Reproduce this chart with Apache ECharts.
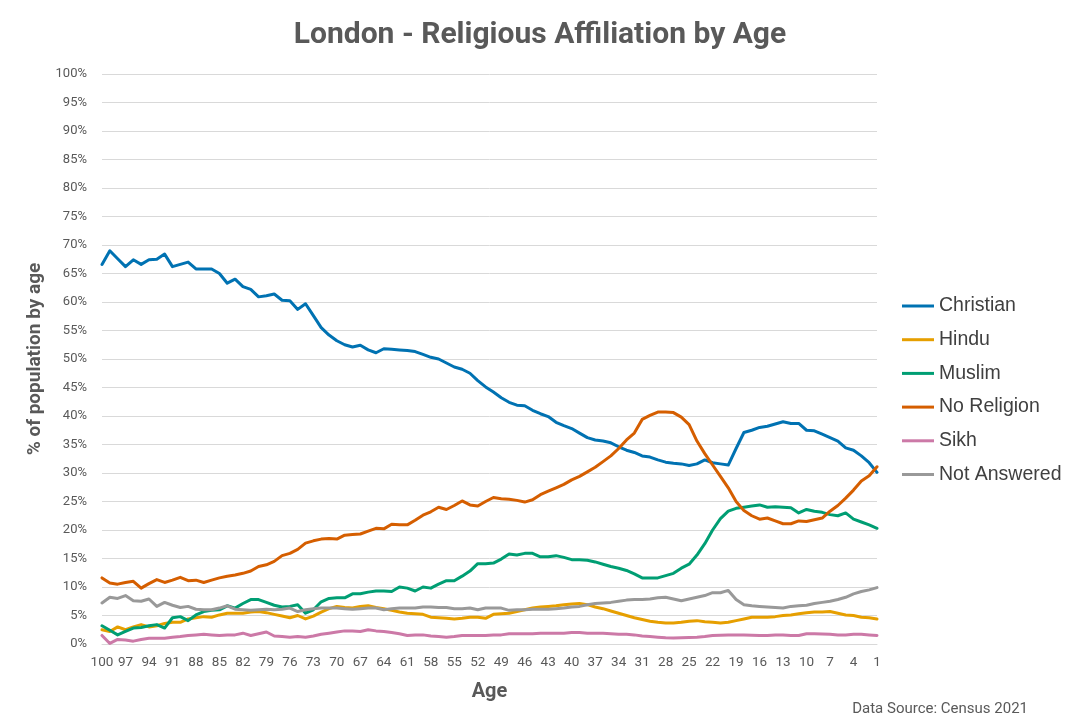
<!DOCTYPE html>
<html>
<head>
<meta charset="utf-8">
<title>London - Religious Affiliation by Age</title>
<script src="https://cdn.jsdelivr.net/npm/echarts@6/dist/echarts.min.js"></script>
<style>
  html, body { margin: 0; padding: 0; background: #fff; }
  #main { width: 1080px; height: 726px; }
</style>
</head>
<body>
<div id="main"></div>
<script>
// ages, oldest first (as on the original x axis)
var ages = ['100','99','98','97','96','95','94','93','92','91',
            '90','89','88','87','86','85','84','83','82','81',
            '80','79','78','77','76','75','74','73','72','71',
            '70','69','68','67','66','65','64','63','62','61',
            '60','59','58','57','56','55','54','53','52','51',
            '50','49','48','47','46','45','44','43','42','41',
            '40','39','38','37','36','35','34','33','32','31',
            '30','29','28','27','26','25','24','23','22','21',
            '20','19','18','17','16','15','14','13','12','11',
            '10','9','8','7','6','5','4','3','2','1'];

// % of population
var christian = [66.6, 69.0, 67.6, 66.2, 67.4, 66.6, 67.4, 67.5, 68.4, 66.2,
                 66.6, 67.0, 65.8, 65.8, 65.8, 65.0, 63.3, 64.0, 62.7, 62.2,
                 60.9, 61.1, 61.4, 60.3, 60.2, 58.7, 59.7, 57.6, 55.5, 54.2,
                 53.2, 52.5, 52.1, 52.4, 51.6, 51.1, 51.8, 51.7, 51.6, 51.5,
                 51.3, 50.8, 50.3, 50.0, 49.3, 48.6, 48.2, 47.5, 46.2, 45.1,
                 44.2, 43.2, 42.4, 41.9, 41.8, 41.0, 40.4, 39.9, 38.9, 38.3,
                 37.8, 37.0, 36.2, 35.8, 35.6, 35.3, 34.6, 34.0, 33.6, 33.0,
                 32.8, 32.3, 31.9, 31.7, 31.6, 31.3, 31.6, 32.3, 31.8, 31.6,
                 31.4, 34.3, 37.1, 37.5, 38.0, 38.2, 38.6, 39.0, 38.7, 38.7,
                 37.5, 37.4, 36.8, 36.2, 35.6, 34.4, 34.0, 33.0, 31.8, 30.1];
var hindu = [2.5, 2.2, 3.0, 2.5, 3.0, 3.4, 3.0, 3.2, 3.6, 3.8,
             3.8, 4.4, 4.6, 4.8, 4.7, 5.1, 5.4, 5.4, 5.4, 5.6,
             5.7, 5.5, 5.2, 4.9, 4.6, 5.0, 4.4, 4.9, 5.6, 6.2,
             6.6, 6.4, 6.3, 6.6, 6.7, 6.4, 6.2, 5.9, 5.6, 5.4,
             5.3, 5.2, 4.7, 4.6, 4.5, 4.4, 4.5, 4.7, 4.7, 4.5,
             5.2, 5.3, 5.4, 5.7, 6.0, 6.3, 6.5, 6.6, 6.7, 6.9,
             7.0, 7.1, 6.9, 6.5, 6.2, 5.8, 5.4, 5.0, 4.6, 4.3,
             4.0, 3.8, 3.7, 3.7, 3.8, 4.0, 4.1, 3.9, 3.8, 3.7,
             3.8, 4.1, 4.4, 4.7, 4.7, 4.7, 4.8, 5.0, 5.1, 5.3,
             5.5, 5.6, 5.6, 5.7, 5.4, 5.1, 5.0, 4.7, 4.6, 4.4];
var muslim = [3.2, 2.4, 1.6, 2.2, 2.8, 2.9, 3.2, 3.4, 2.8, 4.6,
              4.8, 4.1, 5.1, 5.7, 5.9, 6.0, 6.7, 6.3, 7.1, 7.8,
              7.8, 7.3, 6.8, 6.5, 6.6, 6.9, 5.4, 6.0, 7.4, 8.0,
              8.1, 8.1, 8.8, 8.8, 9.1, 9.3, 9.3, 9.2, 10.0, 9.8,
              9.3, 10.0, 9.8, 10.5, 11.1, 11.1, 11.9, 12.8, 14.1, 14.1,
              14.2, 14.9, 15.8, 15.6, 15.9, 15.9, 15.3, 15.3, 15.5, 15.2,
              14.8, 14.8, 14.7, 14.4, 14.0, 13.6, 13.3, 12.9, 12.3, 11.6,
              11.6, 11.6, 12.0, 12.4, 13.3, 14.0, 15.6, 17.6, 20.0, 22.0,
              23.3, 23.8, 24.0, 24.2, 24.4, 24.0, 24.1, 24.0, 23.9, 23.0,
              23.6, 23.3, 23.1, 22.7, 22.5, 23.0, 21.9, 21.4, 20.9, 20.3];
var noReligion = [11.6, 10.7, 10.5, 10.8, 11.0, 9.8, 10.6, 11.3, 10.8, 11.2,
                  11.7, 11.1, 11.2, 10.8, 11.2, 11.6, 11.9, 12.1, 12.4, 12.8,
                  13.6, 13.9, 14.5, 15.5, 15.9, 16.6, 17.7, 18.1, 18.4, 18.5,
                  18.4, 19.1, 19.2, 19.3, 19.8, 20.3, 20.2, 21.0, 20.9, 20.9,
                  21.7, 22.6, 23.2, 24.0, 23.6, 24.3, 25.1, 24.4, 24.2, 25.0,
                  25.7, 25.5, 25.4, 25.2, 24.9, 25.3, 26.2, 26.8, 27.4, 28.0,
                  28.8, 29.4, 30.2, 31.0, 32.0, 33.0, 34.3, 35.8, 37.0, 39.4,
                  40.1, 40.7, 40.7, 40.6, 39.8, 38.5, 35.6, 33.4, 31.4, 29.4,
                  27.4, 25.0, 23.4, 22.5, 21.9, 22.1, 21.6, 21.1, 21.1, 21.6,
                  21.5, 21.8, 22.1, 23.3, 24.3, 25.6, 27.0, 28.6, 29.5, 31.1];
var sikh = [1.5, 0.1, 0.8, 0.7, 0.5, 0.8, 1.0, 1.0, 1.0, 1.2,
            1.3, 1.5, 1.6, 1.7, 1.6, 1.5, 1.6, 1.6, 1.9, 1.5,
            1.8, 2.1, 1.4, 1.3, 1.2, 1.3, 1.2, 1.4, 1.7, 1.9,
            2.1, 2.3, 2.3, 2.2, 2.5, 2.3, 2.2, 2.0, 1.8, 1.5,
            1.6, 1.6, 1.4, 1.3, 1.2, 1.3, 1.5, 1.5, 1.5, 1.5,
            1.6, 1.6, 1.8, 1.8, 1.8, 1.8, 1.9, 1.9, 1.9, 1.9,
            2.0, 2.0, 1.9, 1.9, 1.9, 1.8, 1.7, 1.7, 1.6, 1.4,
            1.3, 1.2, 1.1, 1.05, 1.1, 1.15, 1.2, 1.3, 1.5, 1.55,
            1.6, 1.6, 1.6, 1.55, 1.5, 1.5, 1.6, 1.6, 1.5, 1.5,
            1.8, 1.8, 1.75, 1.7, 1.6, 1.6, 1.7, 1.7, 1.6, 1.5];
var notAnswered = [7.2, 8.2, 8.0, 8.5, 7.6, 7.5, 7.9, 6.6, 7.3, 6.8,
                   6.4, 6.6, 6.1, 6.0, 6.0, 6.3, 6.7, 6.1, 6.0, 5.9,
                   6.0, 6.1, 6.0, 6.1, 6.3, 5.7, 6.0, 6.2, 6.3, 6.3,
                   6.3, 6.2, 6.1, 6.2, 6.3, 6.3, 6.0, 6.2, 6.3, 6.3,
                   6.3, 6.5, 6.5, 6.4, 6.4, 6.2, 6.2, 6.3, 6.0, 6.3,
                   6.3, 6.3, 5.9, 6.0, 6.0, 6.1, 6.1, 6.1, 6.2, 6.3,
                   6.5, 6.6, 6.9, 7.1, 7.2, 7.3, 7.5, 7.7, 7.8, 7.8,
                   7.9, 8.1, 8.2, 7.9, 7.6, 7.9, 8.2, 8.5, 9.0, 9.0,
                   9.4, 7.8, 6.9, 6.7, 6.6, 6.5, 6.4, 6.3, 6.6, 6.7,
                   6.8, 7.1, 7.3, 7.5, 7.8, 8.2, 8.8, 9.2, 9.5, 9.9];

var seriesNames = ['Christian', 'Hindu', 'Muslim', 'No Religion', 'Sikh', 'Not Answered'];
var seriesData = [christian, hindu, muslim, noReligion, sikh, notAnswered];
var colors = ['#0072B2', '#E69F00', '#009E73', '#D55E00', '#CC79A7', '#999999'];

var myChart = echarts.init(document.getElementById('main'));

var series = [];
for (var i = 0; i < seriesNames.length; i++) {
    series.push({
        name: seriesNames[i],
        type: 'line',
        data: seriesData[i],
        showSymbol: false,
        symbol: 'none',
        lineStyle: { width: 3, color: colors[i], join: 'round', cap: 'round' },
        itemStyle: { color: colors[i] }
    });
}

var option = {
    backgroundColor: '#ffffff',
    animation: false,
    title: {
        text: 'London - Religious Affiliation by Age',
        left: 'center',
        top: 15,
        textStyle: {
            fontFamily: 'Roboto',
            fontWeight: 'bold',
            fontSize: 30,
            color: '#595959'
        }
    },
    legend: {
        orient: 'vertical',
        left: 902,
        top: 296,
        padding: 0,
        icon: 'rect',
        itemWidth: 32,
        itemHeight: 3,
        itemGap: 13.7,
        data: seriesNames,
        textStyle: {
            fontFamily: 'Liberation Sans',
            fontSize: 19.5,
            lineHeight: 20,
            color: '#404040'
        }
    },
    grid: {
        left: 102,
        right: 203,
        top: 74,
        bottom: 82,
        containLabel: false
    },
    xAxis: {
        type: 'category',
        boundaryGap: false,
        data: ages,
        name: 'Age',
        nameLocation: 'middle',
        nameGap: 38,
        nameTextStyle: {
            fontFamily: 'Roboto',
            fontWeight: 'bold',
            fontSize: 20,
            color: '#595959'
        },
        axisLine: { show: true, lineStyle: { color: '#d9d9d9' } },
        axisTick: { show: false },
        axisLabel: {
            interval: 2,
            margin: 12,
            fontFamily: 'Roboto',
            fontSize: 13.5,
            color: '#595959'
        },
        splitLine: { show: false }
    },
    yAxis: {
        type: 'value',
        min: 0,
        max: 100,
        interval: 5,
        name: '% of population by age',
        nameLocation: 'middle',
        nameGap: 56,
        nameTextStyle: {
            fontFamily: 'Roboto',
            fontWeight: 'bold',
            fontSize: 19,
            color: '#595959'
        },
        axisLine: { show: false },
        axisTick: { show: false },
        axisLabel: {
            formatter: '{value}%',
            margin: 15,
            fontFamily: 'Roboto',
            fontSize: 13,
            color: '#595959'
        },
        splitLine: { lineStyle: { color: '#d9d9d9', width: 1 } }
    },
    graphic: [
        {
            type: 'text',
            right: 52,
            top: 702,
            style: {
                text: 'Data Source: Census 2021',
                fontFamily: 'Roboto',
                fontSize: 15,
                fill: '#595959'
            }
        }
    ],
    series: series
};

myChart.setOption(option);
</script>
</body>
</html>
